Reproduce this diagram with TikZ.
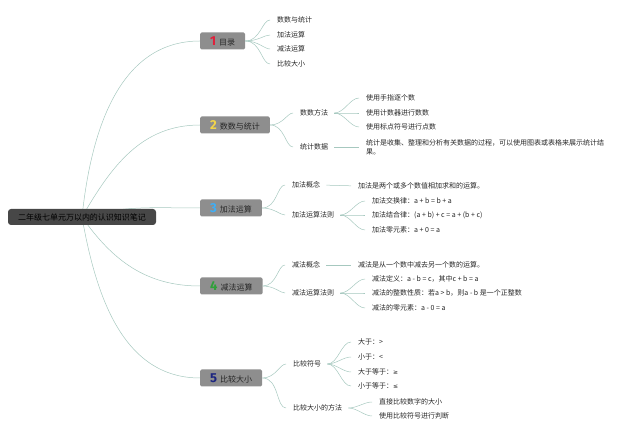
\documentclass[tikz,border=0pt]{standalone}
\usepackage{fontspec}
\setmainfont{Noto Sans CJK SC}
\newfontfamily\numfont{Fira Sans}
\newfontfamily\symfont{DejaVu Sans}
\usepackage{tikz}
\usepackage{xcolor}
\usetikzlibrary{backgrounds}
\definecolor{linkgreen}{HTML}{A6C8BF}
\definecolor{boxgray}{HTML}{8E8E8E}
\definecolor{rootgray}{HTML}{474747}
\definecolor{numred}{HTML}{E0203A}
\definecolor{numyellow}{HTML}{F2D54A}
\definecolor{numblue}{HTML}{3FAEF5}
\definecolor{numgreen}{HTML}{2FA03A}
\definecolor{numnavy}{HTML}{1C2580}
\tikzset{
    root-box/.style = {fill=rootgray, text=black, rounded corners=3pt, minimum height=16pt, inner xsep=10pt, font=\fontsize{8}{9}\selectfont},
    topic-box/.style = {fill=boxgray, text=black!85, rounded corners=1.5pt, anchor=west, minimum height=17pt, inner xsep=10pt, inner ysep=1pt, font=\fontsize{8}{9}\selectfont},
    sub-text/.style = {anchor=west, inner xsep=0pt, inner ysep=1pt, text=black!85, font=\fontsize{7}{9}\selectfont},
    branch-line/.style = {draw=linkgreen, line width=0.5pt, shorten <=6pt, shorten >=7pt},
}
\newcommand{\topicnum}[2]{{\numfont\bfseries\fontsize{13}{13}\selectfont\color{#1}#2}\hspace{3pt}}

\begin{document}
\begin{tikzpicture}[x=1pt, y=-1pt]
\useasboundingbox (0,0) rectangle (640,435);
\node[root-box] (root) at (82,217) {二年级七单元万以内的认识知识笔记};
\node[topic-box] (t1) at (200,41) {\topicnum{numred}{1}目录};
\node[topic-box] (t2) at (200,125) {\topicnum{numyellow}{2}数数与统计};
\node[topic-box] (t3) at (200,208) {\topicnum{numblue}{3}加法运算};
\node[topic-box] (t4) at (200,286) {\topicnum{numgreen}{4}减法运算};
\node[topic-box] (t5) at (200,378) {\topicnum{numnavy}{5}比较大小};

\node[sub-text] (s1a) at (277,20) {数数与统计};
\node[sub-text] (s1b) at (277,35) {加法运算};
\node[sub-text] (s1c) at (277,49) {减法运算};
\node[sub-text] (s1d) at (277,64) {比较大小};

\node[sub-text] (s2a) at (300,113) {数数方法};
\node[sub-text] (s2b) at (300,147) {统计数据};
\node[sub-text] (l2a) at (366,98) {使用手指逐个数};
\node[sub-text] (l2b) at (366,113) {使用计数器进行数数};
\node[sub-text] (l2c) at (366,127) {使用标点符号进行点数};
\node[sub-text, align=left] (l2d) at (366,147) {统计是收集、整理和分析有关数据的过程，可以使用图表或表格来展示统计结\\果。};

\node[sub-text] (s3a) at (292,185) {加法概念};
\node[sub-text] (s3b) at (292,215) {加法运算法则};
\node[sub-text] (l3a) at (358,186) {加法是两个或多个数值相加求和的运算。};
\node[sub-text] (l3b) at (372,201) {加法交换律：a + b = b + a};
\node[sub-text] (l3c) at (372,215) {加法结合律：(a + b) + c = a + (b + c)};
\node[sub-text] (l3d) at (372,230) {加法零元素：a + 0 = a};

\node[sub-text] (s4a) at (292,265) {减法概念};
\node[sub-text] (s4b) at (292,293) {减法运算法则};
\node[sub-text] (l4a) at (358,265) {减法是从一个数中减去另一个数的运算。};
\node[sub-text] (l4b) at (372,279) {减法定义：a - b = c，其中c + b = a};
\node[sub-text] (l4c) at (372,293) {减法的整数性质：若a > b，则a - b 是一个正整数};
\node[sub-text] (l4d) at (372,308) {减法的零元素：a - 0 = a};

\node[sub-text] (s5a) at (293,364) {比较符号};
\node[sub-text] (s5b) at (293,408) {比较大小的方法};
\node[sub-text] (l5a) at (358,342) {大于：>};
\node[sub-text] (l5b) at (358,357) {小于：<};
\node[sub-text] (l5c) at (358,372) {大于等于：{\symfont\fontsize{6}{9}\selectfont ≥}};
\node[sub-text] (l5d) at (358,386) {小于等于：{\symfont\fontsize{6}{9}\selectfont ≤}};
\node[sub-text] (l5e) at (379,402) {直接比较数字的大小};
\node[sub-text] (l5f) at (379,416) {使用比较符号进行判断};

\begin{scope}[on background layer]
\draw[branch-line, shorten <=0pt, shorten >=0pt] (root.center) to[out=84,in=180] (t1.west);
\draw[branch-line, shorten <=0pt, shorten >=0pt] (root.center) to[out=60,in=180] (t2.west);
\draw[branch-line, shorten <=0pt, shorten >=0pt] (root.center) to[out=15,in=180] (t3.west);
\draw[branch-line, shorten <=0pt, shorten >=0pt] (root.center) to[out=-55,in=180] (t4.west);
\draw[branch-line, shorten <=0pt, shorten >=0pt] (root.center) to[out=-80,in=180] (t5.west);
\end{scope}

\foreach \n in {s1a,s1b,s1c,s1d}
    \draw[branch-line, shorten <=0pt] (t1.east) to[out=0,in=180] (\n.west);
\foreach \n in {s2a,s2b}
    \draw[branch-line, shorten <=0pt] (t2.east) to[out=0,in=180] (\n.west);
\foreach \n in {s3a,s3b}
    \draw[branch-line, shorten <=0pt] (t3.east) to[out=0,in=180] (\n.west);
\foreach \n in {s4a,s4b}
    \draw[branch-line, shorten <=0pt] (t4.east) to[out=0,in=180] (\n.west);
\foreach \n in {s5a,s5b}
    \draw[branch-line, shorten <=0pt] (t5.east) to[out=0,in=180] (\n.west);

\foreach \n in {l2a,l2b,l2c}
    \draw[branch-line] (s2a.east) to[out=0,in=180] (\n.west);
\draw[branch-line] (s2b.east) -- (l2d.west);
\draw[branch-line] (s3a.east) -- (l3a.west);
\foreach \n in {l3b,l3c,l3d}
    \draw[branch-line] (s3b.east) to[out=0,in=180] (\n.west);
\draw[branch-line] (s4a.east) -- (l4a.west);
\foreach \n in {l4b,l4c,l4d}
    \draw[branch-line] (s4b.east) to[out=0,in=180] (\n.west);
\foreach \n in {l5a,l5b,l5c,l5d}
    \draw[branch-line] (s5a.east) to[out=0,in=180] (\n.west);
\foreach \n in {l5e,l5f}
    \draw[branch-line] (s5b.east) to[out=0,in=180] (\n.west);
\end{tikzpicture}
\end{document}
